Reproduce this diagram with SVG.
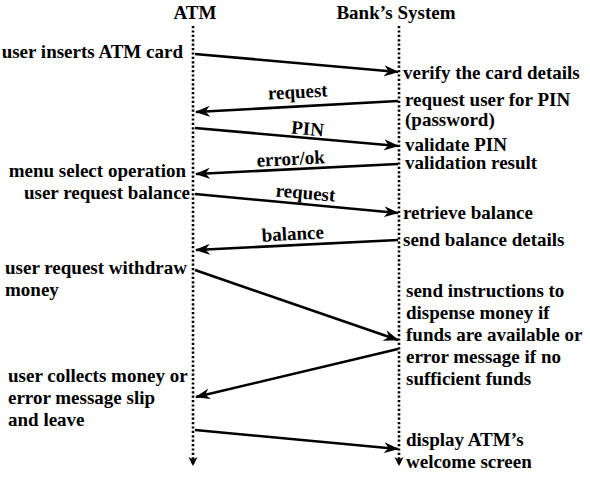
<svg xmlns="http://www.w3.org/2000/svg" width="590" height="477" viewBox="0 0 590 477">
<style>
text{font-family:"Liberation Serif","Tinos","DejaVu Serif",serif;font-weight:700;font-size:19px;fill:#000}
.end{text-anchor:end}
.mid{text-anchor:middle}
.life{stroke:#000;stroke-width:2.6;stroke-dasharray:2.2 2.2;fill:none}
.msg{stroke:#000;stroke-width:2.6;fill:none;marker-end:url(#ah)}
</style>
<defs>
<marker id="ah" markerUnits="userSpaceOnUse" markerWidth="16" markerHeight="12" refX="14" refY="6" orient="auto" viewBox="0 0 16 12">
<path d="M0,0.5 L15,6 L0,11.5 L4.5,6 z" fill="#000"/>
</marker>
<marker id="lh" markerUnits="userSpaceOnUse" markerWidth="10" markerHeight="10" refX="9" refY="5" orient="auto" viewBox="0 0 10 10">
<path d="M0,0.5 L9,5 L0,9.5 L2.5,5 z" fill="#000"/>
</marker>
</defs>
<rect width="590" height="477" fill="#fff"/>
<g id="atm">
<text x="195" y="19" class="mid">ATM</text>
<line class="life" x1="193" y1="26" x2="193" y2="466" marker-end="url(#lh)"/>
</g>
<g id="bank">
<text x="396" y="19" class="mid">Bank’s System</text>
<line class="life" x1="399" y1="26" x2="399" y2="466" marker-end="url(#lh)"/>
</g>
<g id="atm-notes">
<text x="183" y="58" class="end">user inserts ATM card</text>
<text x="186" y="177" class="end">menu select operation</text>
<text x="190" y="199" class="end">user request balance</text>
<text x="5" y="274">user request withdraw</text>
<text x="5" y="296">money</text>
<text x="8" y="382">user collects money or</text>
<text x="8" y="404">error message slip</text>
<text x="8" y="426">and leave</text>
</g>
<g id="bank-notes">
<text x="403" y="79">verify the card details</text>
<text x="405" y="106">request user for PIN</text>
<text x="405" y="126">(password)</text>
<text x="405" y="151">validate PIN</text>
<text x="405" y="169">validation result</text>
<text x="403" y="219">retrieve balance</text>
<text x="403" y="246">send balance details</text>
<text x="406" y="297">send instructions to</text>
<text x="406" y="319">dispense money if</text>
<text x="406" y="341">funds are available or</text>
<text x="406" y="363">error message if no</text>
<text x="406" y="385">sufficient funds</text>
<text x="406" y="446">display ATM’s</text>
<text x="406" y="468">welcome screen</text>
</g>
<g id="connectors">
<line class="msg" x1="195" y1="54" x2="398" y2="72"/>
<line class="msg" x1="398" y1="101" x2="196" y2="112"/>
<line class="msg" x1="195" y1="128" x2="398" y2="146"/>
<line class="msg" x1="398" y1="164" x2="196" y2="174"/>
<line class="msg" x1="195" y1="194" x2="398" y2="213"/>
<line class="msg" x1="398" y1="240" x2="196" y2="250"/>
<line class="msg" x1="195" y1="270" x2="398" y2="340"/>
<line class="msg" x1="398" y1="349" x2="196" y2="397"/>
<line class="msg" x1="195" y1="430" x2="398" y2="449"/>
<text class="mid" transform="translate(298,98) rotate(-3)">request</text>
<text class="mid" transform="translate(307,135) rotate(5)">PIN</text>
<text class="mid" transform="translate(291,165) rotate(-3)">error/ok</text>
<text class="mid" transform="translate(305,199) rotate(5)">request</text>
<text class="mid" transform="translate(293,240) rotate(-3)">balance</text>
</g>
</svg>
